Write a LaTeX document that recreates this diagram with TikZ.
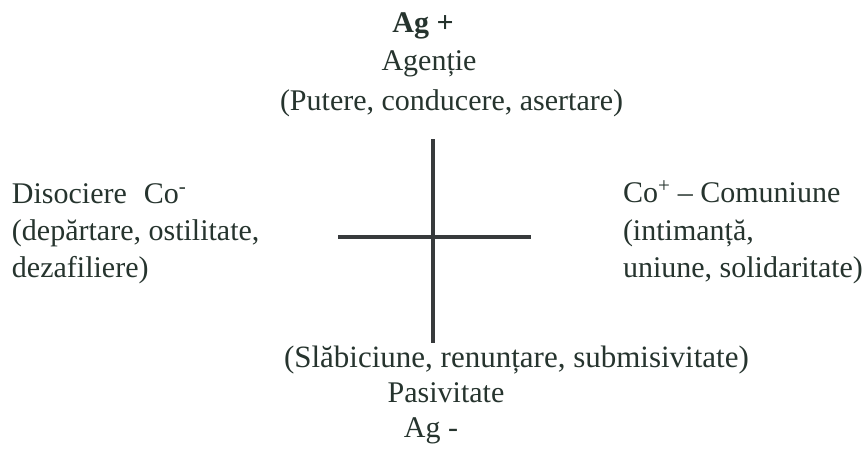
\documentclass[tikz,border=0pt]{standalone}
\usepackage{fontspec}
\setmainfont{Liberation Serif}
\usetikzlibrary{positioning}

\definecolor{inkcol}{RGB}{38,52,46}
\definecolor{axiscol}{RGB}{55,58,60}

\begin{document}
\begin{tikzpicture}[x=1pt, y=-1pt, inner sep=0pt, outer sep=0pt]
    % Styles
    \tikzstyle{label} = [text=inkcol, font=\fontsize{30}{37}\selectfont]
    \tikzstyle{axis} = [draw=axiscol, line cap=butt]

    \useasboundingbox [fill=white] (0,0) rectangle (865,466);

    % Top pole
    \node [label, anchor=base, font=\fontsize{30}{37}\selectfont\bfseries] (agplus) at (423,32) {Ag +};
    \node [label, anchor=base] (agentie) at (429,70) {Agenție};
    \node [label, anchor=base west] (putere) at (280,110) {(Putere, conducere, asertare)};

    % Left pole
    \node [label, anchor=base west] (disoc) at (12,203) {Disociere\hspace{17pt}Co\textsuperscript{-}};
    \node [label, anchor=base west] (depart) at (12,240) {(depărtare, ostilitate,};
    \node [label, anchor=base west] (dezaf) at (12,277) {dezafiliere)};

    % Right pole
    \node [label, anchor=base west] (comun) at (623,202) {Co\textsuperscript{+} – Comuniune};
    \node [label, anchor=base west] (intim) at (623,240) {(intimanță,};
    \node [label, anchor=base west] (uniune) at (623,277) {uniune, solidaritate)};

    % Bottom pole
    \node [label, anchor=base west, font=\fontsize{31}{37}\selectfont] (slab) at (284,367) {(Slăbiciune, renunțare, submisivitate)};
    \node [label, anchor=base] (pasiv) at (446,402) {Pasivitate};
    \node [label, anchor=base] (agminus) at (431,437) {Ag -};

    % Axes
    \coordinate (vtop) at (433,139);
    \coordinate (vbot) at (433,343);
    \coordinate (hleft) at (338,237);
    \coordinate (hright) at (531,237);
    \draw [axis, line width=3.5pt] (vtop) -- (vbot);
    \draw [axis, line width=4.5pt] (hleft) -- (hright);

\end{tikzpicture}
\end{document}
